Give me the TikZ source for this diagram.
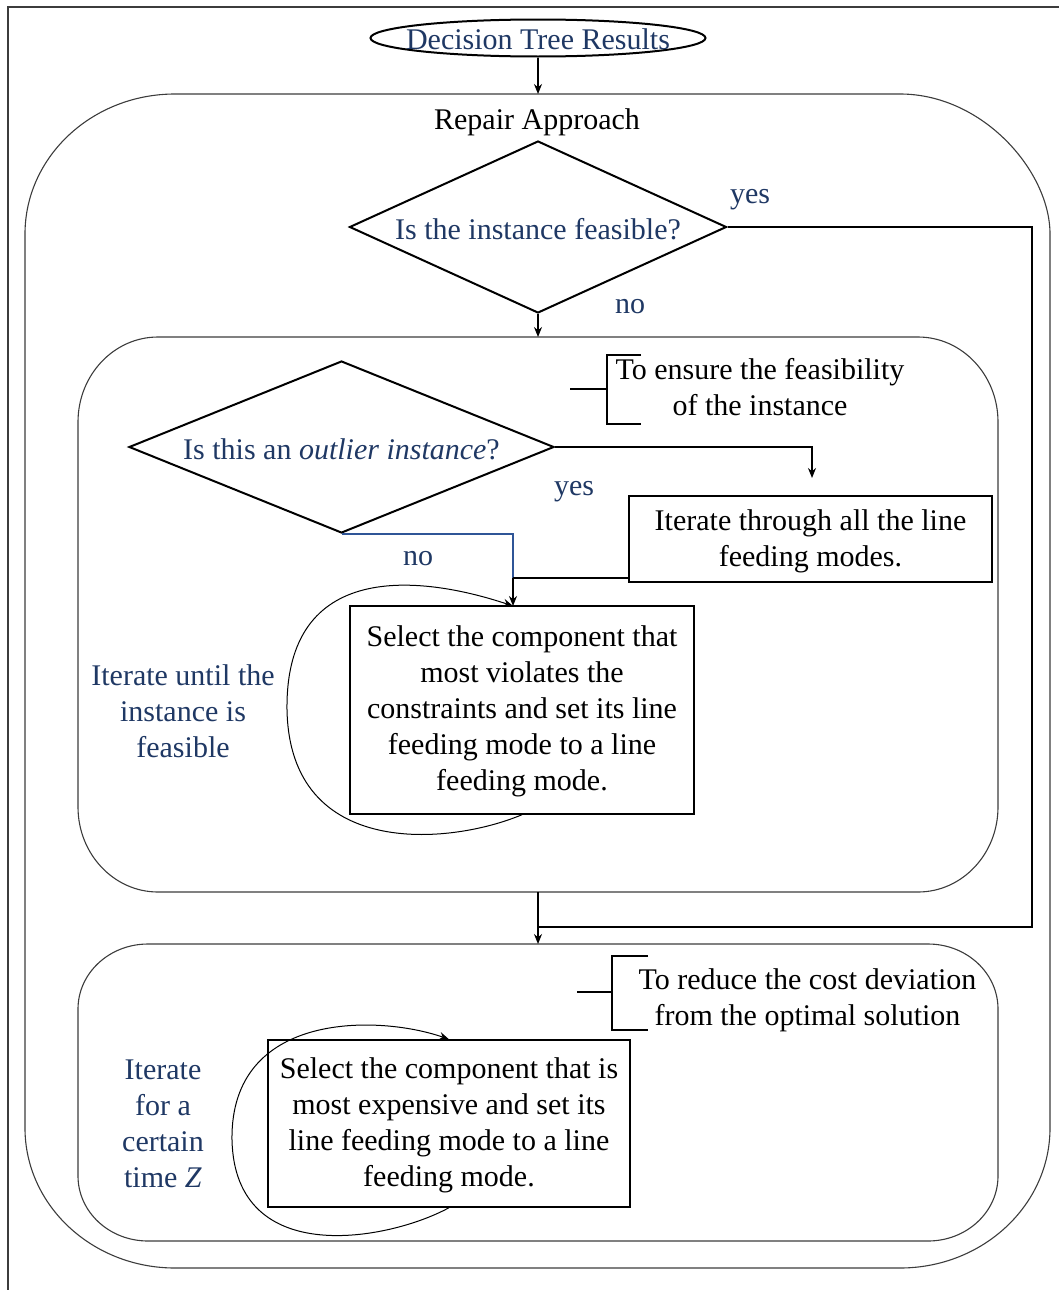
\documentclass[tikz,border=0pt]{standalone}
\usepackage{fontspec}
\setmainfont{Liberation Serif}
\usetikzlibrary{arrows.meta,shapes.geometric}
\definecolor{navy}{RGB}{31,56,100}
\definecolor{nolink}{RGB}{47,85,151}
\definecolor{rim}{RGB}{60,60,60}

\begin{document}
\begin{tikzpicture}[x=0.5pt,y=-0.5pt,
  every node/.style={font=\fontsize{15}{18}\selectfont, align=center, inner sep=0pt},
  frameline/.style={draw=rim, line width=0.75pt},
  container/.style={draw=rim, line width=0.55pt},
  decision/.style={draw, shape=diamond, line width=1pt, inner sep=0pt},
  procbox/.style={draw, rectangle, line width=0.7pt, inner sep=0pt},
  navytext/.style={text=navy},
  link/.style={draw, line width=0.65pt},
  arr/.style={link, -{Stealth[length=5pt,width=4pt]}},
  bracketline/.style={draw, line width=1.1pt},
]
\useasboundingbox (0,0) rectangle (1059,1290);

% page frame (top and left edges)
\draw[frameline] (1059,7) -- (8,7) -- (8,1290);

% outer container: Repair Approach
\draw[container]
  (175,94) -- (900,94)
  .. controls (982.8,94) and (1050,171.3) .. (1050,234)
  -- (1050,1128)
  .. controls (1050,1205.3) and (982.8,1268) .. (900,1268)
  -- (175,1268)
  .. controls (92.2,1268) and (25,1205.3) .. (25,1128)
  -- (25,234)
  .. controls (25,156.7) and (92.2,94) .. (175,94) -- cycle;

% feasibility container
\draw[container]
  (158,337) -- (918,337)
  .. controls (962.2,337) and (998,375.1) .. (998,422)
  -- (998,807)
  .. controls (998,853.9) and (962.2,892) .. (918,892)
  -- (158,892)
  .. controls (113.8,892) and (78,853.9) .. (78,807)
  -- (78,422)
  .. controls (78,375.1) and (113.8,337) .. (158,337) -- cycle;

% cost container
\draw[container]
  (148,944) -- (928,944)
  .. controls (966.7,944) and (998,973.1) .. (998,1009)
  -- (998,1176)
  .. controls (998,1211.9) and (966.7,1241) .. (928,1241)
  -- (148,1241)
  .. controls (109.3,1241) and (78,1211.9) .. (78,1176)
  -- (78,1009)
  .. controls (78,973.1) and (109.3,944) .. (148,944) -- cycle;

% named points on the containers
\coordinate (outerN) at (538,94);
\coordinate (feasN)  at (538,337);
\coordinate (feasS)  at (538,892);
\coordinate (costN)  at (538,944);

% start
\node[draw, ellipse, line width=1pt, minimum width=167.5pt, minimum height=18.5pt] (start) at (538,38) {};
\node[navytext] (startlabel) at (538,39) {Decision Tree Results};

\node (repair) at (537,122) {Repair Approach};

% first decision
\node[decision, minimum width=188.5pt, minimum height=86pt] (feas) at (538,227) {};
\node[navytext] (feaslabel) at (538,229) {Is the instance feasible?};
\node[navytext] (yes1) at (750,200) {yes};
\node[navytext] (no1) at (630,307) {no};

% annotation of the feasibility block
\node (ensure) at (760,387) {To ensure the feasibility\\of the instance};
\draw[bracketline] (570,389) -- (607,389);
\draw[bracketline] (641,355) -- (607,355) -- (607,424) -- (641,424);

% second decision
\node[decision, minimum width=212.5pt, minimum height=86pt] (outl) at (341.5,447) {};
\node[navytext] (outllabel) at (341.5,449) {Is this an \textit{outlier instance}?};
\node[navytext] (yes2) at (574,492) {yes};
\node[navytext] (no2) at (418,559) {no};

% processes
\node[procbox, minimum width=181.5pt, minimum height=43pt] (iter) at (810.5,539) {};
\node (iterlabel) at (810.5,541) {Iterate through all the line\\feeding modes.};
\node[procbox, minimum width=172pt, minimum height=104pt] (sel1) at (522,710) {};
\node (sel1label) at (522,711)
  {Select the component that\\most violates the\\constraints and set its line\\feeding mode to a line\\feeding mode.};
\node[navytext] (loop1label) at (183,711) {Iterate until the\\instance is\\feasible};

% annotation of the cost block
\node (reduce) at (807.5,1000) {To reduce the cost deviation\\from the optimal solution};
\draw[bracketline] (577,992) -- (612,992);
\draw[bracketline] (648,956) -- (612,956) -- (612,1030) -- (648,1030);

\node[procbox, minimum width=181pt, minimum height=83.5pt] (sel2) at (449,1123.5) {};
\node (sel2label) at (449,1125)
  {Select the component that is\\most expensive and set its\\line feeding mode to a line\\feeding mode.};
\node[navytext] (loop2label) at (163,1124) {Iterate\\for a\\certain\\time \textit{Z}};

% connector end points
\coordinate (yesTurn) at (1032,227);
\coordinate (merge)   at (538,927);
\coordinate (iterIn)  at (812,478);
\coordinate (sel1In)  at (513,606);
\coordinate (iterOut) at (629,578);
\coordinate (noJoin)  at (513,578);

% connectors
\draw[arr] (start.south) -- (outerN);
\draw[arr] (feas.south) -- (feasN);
\draw[link] (feas.east) -- (yesTurn) |- (merge);
\draw[arr] (feasS) -- (costN);
\draw[arr] (outl.east) -| (iterIn);
\draw[link, draw=nolink] (outl.south) -| (noJoin);
\draw[arr] (noJoin) -- (sel1In);
\draw[link] (iterOut) -- (noJoin);

% iteration loops
\draw[link, line width=0.5pt, -{Stealth[length=5pt,width=4pt]}]
  (sel1.south) .. controls (450,845) and (290,860) .. (287,710)
  .. controls (285,560) and (420,575) .. (sel1In);
\draw[link, line width=0.5pt, -{Stealth[length=5pt,width=4pt]}]
  (sel2.south) .. controls (390,1240) and (235,1270) .. (232,1140)
  .. controls (230,1010) and (380,1015) .. (sel2.north);
\end{tikzpicture}
\end{document}
